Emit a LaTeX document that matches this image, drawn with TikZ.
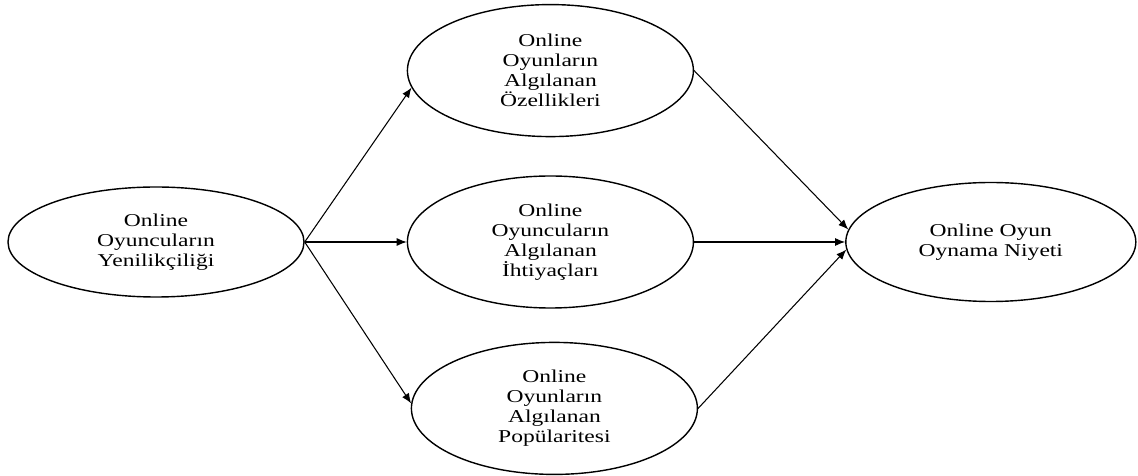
\documentclass[tikz,border=0pt]{standalone}
\usepackage{fontspec}
\setmainfont{Liberation Serif}[FakeStretch=1.3]
\usepackage{tikz}
\usetikzlibrary{positioning, arrows.meta, shapes}
\tikzstyle{construct} = [ellipse, draw=black, line width=0.8pt, inner sep=0pt, align=center, font=\fontsize{10.3}{11.4}\selectfont]
\tikzstyle{mediator} = [construct, minimum width=5.72cm, minimum height=2.64cm]
\tikzstyle{arrow} = [line width=0.6pt, -{Latex[length=2mm, width=1.6mm]}]

\begin{document}
\begin{tikzpicture}
    \useasboundingbox (0,0) rectangle (22.76,9.5);

        % Nodes
        \node (innov) [construct, minimum width=5.92cm, minimum height=2.2cm] at (3.12,4.66) {Online\\Oyuncuların\\Yenilikçiliği};
        \node (need) [mediator, right=2.04cm of innov] {Online\\Oyuncuların\\Algılanan\\İhtiyaçları};
        \node (feat) [mediator, above=0.76cm of need] {Online\\Oyunların\\Algılanan\\Özellikleri};
        \node (pop) [mediator, below=0.66cm of need, xshift=0.08cm] {Online\\Oyunların\\Algılanan\\Popülaritesi};
        \node (intent) [construct, minimum width=5.8cm, minimum height=2.38cm, right=3.02cm of need] {Online Oyun\\Oynama Niyeti};

        % Arrows
        \draw [arrow] (innov.east) -- (feat.187);
        \draw [arrow] (innov.east) -- (need.west);
        \draw [arrow] (innov.east) -- (pop.178);
        \draw [arrow] (feat.east) -- (intent.175);
        \draw [arrow] (need.east) -- (intent.west);
        \draw [arrow] (pop.east) -- (intent.183);

    \end{tikzpicture}
\end{document}
